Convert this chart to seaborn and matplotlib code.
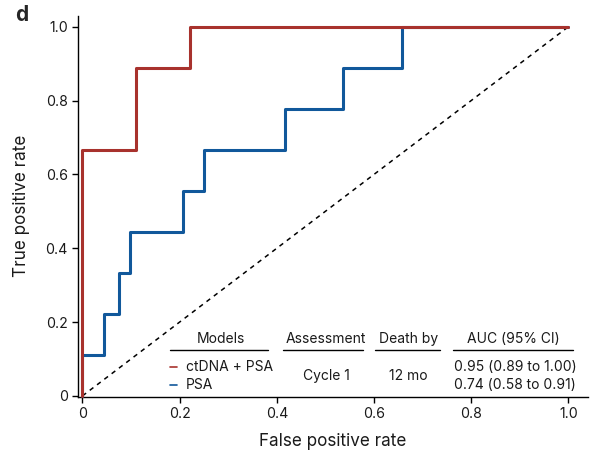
import numpy as np
import pandas as pd
import matplotlib
matplotlib.use("Agg")
import matplotlib.pyplot as plt
import seaborn as sns

# ---- data ----
models = ["ctDNA + PSA", "PSA"]
fpr_ctdna = [0.0, 0.0, 0.111, 0.222, 1.0]
tpr_ctdna = [0.0, 0.667, 0.889, 1.0, 1.0]
fpr_psa = [0.0, 0.0, 0.045, 0.076, 0.098, 0.207, 0.251, 0.417, 0.537, 0.657, 1.0]
tpr_psa = [0.0, 0.111, 0.222, 0.333, 0.444, 0.556, 0.667, 0.778, 0.889, 1.0, 1.0]
auc_labels = ["0.95 (0.89 to 1.00)", "0.74 (0.58 to 0.91)"]
assessment = "Cycle 1"
death_by = "12 mo"
ticks = [0, 0.2, 0.4, 0.6, 0.8, 1.0]
tick_labels = ["0", "0.2", "0.4", "0.6", "0.8", "1.0"]
colors = {"ctDNA + PSA": "#A8322D", "PSA": "#11589B"}

sns.set_theme(style="white")
plt.rcParams["font.family"] = ["Inter", "DejaVu Sans"]

df = pd.concat([
    pd.DataFrame({"fpr": fpr_ctdna, "tpr": tpr_ctdna, "model": models[0]}),
    pd.DataFrame({"fpr": fpr_psa, "tpr": tpr_psa, "model": models[1]}),
], ignore_index=True)

fig = plt.figure(figsize=(5.9, 4.57), dpi=100)
ax = fig.add_axes([0.1315, 0.1313, 0.865, 0.8346])

# diagonal
ax.plot([0, 1], [0, 1], ls=(0, (3, 3)), color="black", lw=1.1, zorder=1)

# PSA first, then ctDNA on top
for m in [models[1], models[0]]:
    sns.lineplot(data=df[df.model == m], x="fpr", y="tpr", color=colors[m],
                 estimator=None, sort=False, drawstyle="steps-post",
                 lw=2.2, ax=ax, legend=False, zorder=3)
for l in ax.lines:
    l.set_clip_on(False)

ax.set_xlim(-0.01, 1.04)
ax.set_ylim(-0.003, 1.03)
ax.set_xticks(ticks)
ax.set_xticklabels(tick_labels)
ax.set_yticks(ticks)
ax.set_yticklabels(tick_labels)
ax.tick_params(axis="both", direction="out", length=4, width=1, color="black",
               labelsize=10.2, labelcolor="#1a1a1a", pad=3, bottom=True, left=True)
for s in ["top", "right"]:
    ax.spines[s].set_visible(False)
for s in ["left", "bottom"]:
    ax.spines[s].set_color("black")
    ax.spines[s].set_linewidth(1.0)

ax.set_xlabel("False positive rate", fontsize=12.3, color="#1a1a1a", labelpad=9)
ax.set_ylabel("True positive rate", fontsize=12.3, color="#1a1a1a", labelpad=11)

fig.text(0.025, 0.99, "d", fontsize=15, fontweight="bold", va="top", ha="left")

# ---- legend table ----
fs = 10
tc = "#1a1a1a"
yh, yu, y1, y2 = 0.154, 0.125, 0.079, 0.030
ym = (y1 + y2) / 2
headers = [("Models", 0.284, 0.18, 0.382),
           ("Assessment", 0.501, 0.413, 0.577),
           ("Death by", 0.670, 0.602, 0.736),
           ("AUC (95% CI)", 0.886, 0.762, 1.009)]
for txt, xc, x0, x1 in headers:
    ax.text(xc, yh, txt, ha="center", va="center", fontsize=fs, color=tc)
    ax.plot([x0, x1], [yu, yu], color="black", lw=1.0, clip_on=False)
for m, yy, auc in zip(models, [y1, y2], auc_labels):
    ax.plot([0.180, 0.194], [yy, yy], color=colors[m], lw=1.2, clip_on=False)
    ax.text(0.213, yy, m, ha="left", va="center", fontsize=fs, color=tc)
    ax.text(0.764, yy, auc, ha="left", va="center", fontsize=fs, color=tc)
ax.text(0.501, ym, assessment, ha="center", va="center", fontsize=fs, color=tc)
ax.text(0.670, ym, death_by, ha="center", va="center", fontsize=fs, color=tc)

fig.savefig("out.png", dpi=100)
